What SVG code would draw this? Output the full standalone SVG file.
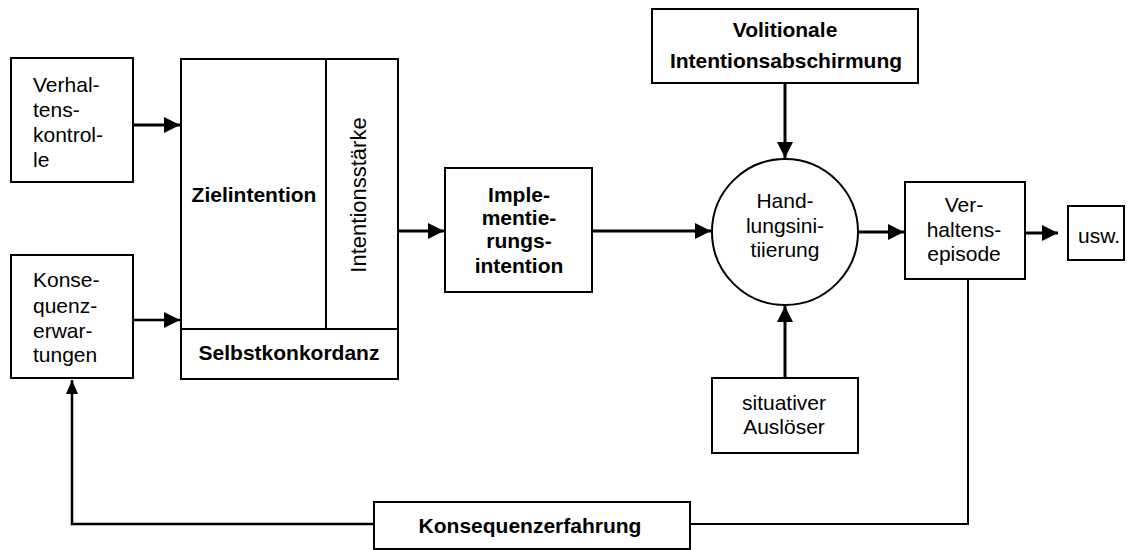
<svg xmlns="http://www.w3.org/2000/svg" width="1133" height="550" viewBox="0 0 1133 550">
<style>
.box{fill:#fff;stroke:#000;stroke-width:2}
.ln{fill:none;stroke:#000;stroke-width:3}
.fb{fill:none;stroke:#000;stroke-width:2}
text{font-family:"Liberation Sans",Arial,sans-serif;font-size:21px;fill:#000}
.b{font-weight:bold}
.c{text-anchor:middle}
</style>
<defs>
<marker id="ah" markerUnits="userSpaceOnUse" markerWidth="17" markerHeight="18" refX="16" refY="8" orient="auto">
<path d="M0,0 L16,8 L0,16 Z" fill="#000"/>
</marker>
<marker id="ahs" markerUnits="userSpaceOnUse" markerWidth="15" markerHeight="14" refX="14" refY="6" orient="auto">
<path d="M0,0 L14,6 L0,12 Z" fill="#000"/>
</marker>
</defs>
<rect width="1133" height="550" fill="#fff"/>
<g id="connectors">
<line class="ln" x1="133" y1="125" x2="180" y2="125" marker-end="url(#ah)"/>
<line class="ln" x1="133" y1="320" x2="180" y2="320" marker-end="url(#ah)" style="stroke-width:2.5"/>
<line class="ln" x1="398" y1="231" x2="444" y2="231" marker-end="url(#ah)"/>
<line class="ln" x1="592" y1="231" x2="711" y2="231" marker-end="url(#ah)"/>
<line class="ln" x1="785" y1="83" x2="785" y2="158" marker-end="url(#ah)"/>
<line class="ln" x1="785" y1="378" x2="785" y2="306" marker-end="url(#ah)"/>
<line class="ln" x1="857" y1="232" x2="904" y2="232" marker-end="url(#ah)"/>
<line class="ln" x1="1025" y1="233" x2="1058" y2="233" marker-end="url(#ah)"/>
<polyline class="fb" points="968,279 968,524 690,524"/>
<polyline class="fb" points="374,524 72,524 72,380" marker-end="url(#ahs)" style="stroke-width:2.5"/>
</g>
<g id="verhaltenskontrolle">
<rect class="box" x="11" y="58" width="122" height="124"/>
<text x="33" y="92">Verhal-</text>
<text x="33" y="117">tens-</text>
<text x="33" y="142">kontrol-</text>
<text x="33" y="167">le</text>
</g>
<g id="konsequenzerwartungen">
<rect class="box" x="11" y="255" width="122" height="123"/>
<text x="33" y="287">Konse-</text>
<text x="33" y="313">quenz-</text>
<text x="33" y="338">erwar-</text>
<text x="33" y="362">tungen</text>
</g>
<g id="zielintention">
<rect class="box" x="181" y="59" width="217" height="320"/>
<line class="fb" x1="326" y1="59" x2="326" y2="329"/>
<line class="fb" x1="181" y1="329" x2="398" y2="329"/>
<text class="b c" x="254" y="202">Zielintention</text>
<text class="c" transform="translate(366,195) rotate(-90)" style="font-size:22px">Intentionsstärke</text>
<text class="b c" x="289" y="360">Selbstkonkordanz</text>
</g>
<g id="implementierungsintention">
<rect class="box" x="445" y="168" width="147" height="124"/>
<text class="b c" x="519" y="202">Imple-</text>
<text class="b c" x="519" y="225">mentie-</text>
<text class="b c" x="519" y="248">rungs-</text>
<text class="b c" x="519" y="273">intention</text>
</g>
<g id="volitionale">
<rect class="box" x="652" y="9" width="266" height="74"/>
<text class="b c" x="785" y="37">Volitionale</text>
<text class="b c" x="786" y="68">Intentionsabschirmung</text>
</g>
<g id="handlungsinitiierung">
<circle class="box" cx="785" cy="232" r="73"/>
<text class="c" x="785" y="208">Hand-</text>
<text class="c" x="785" y="233">lungsini-</text>
<text class="c" x="785" y="257">tiierung</text>
</g>
<g id="situativer">
<rect class="box" x="712" y="378" width="146" height="75"/>
<text class="c" x="784" y="410">situativer</text>
<text class="c" x="784" y="434">Auslöser</text>
</g>
<g id="verhaltensepisode">
<rect class="box" x="905" y="182" width="120" height="97"/>
<text class="c" x="964" y="212">Ver-</text>
<text class="c" x="964" y="237">haltens-</text>
<text class="c" x="964" y="261">episode</text>
</g>
<g id="usw">
<rect class="box" x="1068" y="206" width="56" height="54"/>
<text x="1078" y="243">usw.</text>
</g>
<g id="konsequenzerfahrung">
<rect class="box" x="374" y="502" width="316" height="47"/>
<text class="b c" x="530" y="533">Konsequenzerfahrung</text>
</g>
</svg>
